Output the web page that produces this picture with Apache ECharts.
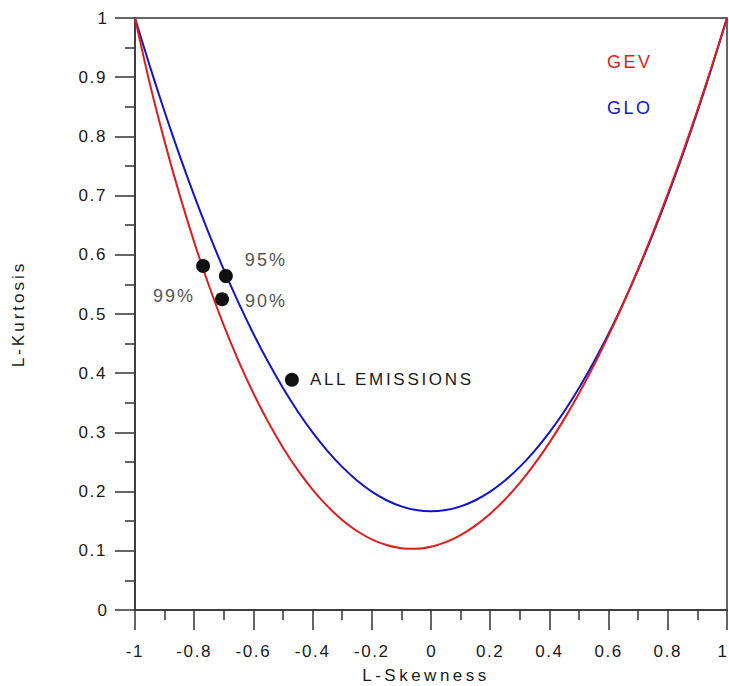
<!DOCTYPE html>
<html>
<head>
<meta charset="utf-8">
<script src="https://cdn.jsdelivr.net/npm/echarts@6/dist/echarts.min.js"></script>
<style>
html,body{margin:0;padding:0;background:#fff;}
#chart{width:729px;height:686px;}
#chart text{letter-spacing:1.6px;}
</style>
</head>
<body>
<div id="chart"></div>
<script>
// L-Skewness grid for theoretical curves
const skew = [-1, -0.95, -0.9, -0.85, -0.8, -0.75, -0.7, -0.65, -0.6, -0.55, -0.5, -0.45, -0.4, -0.35, -0.3, -0.25, -0.2, -0.15, -0.1, -0.05, 0,
  0.05, 0.1, 0.15, 0.2, 0.25, 0.3, 0.35, 0.4, 0.45, 0.5, 0.55, 0.6, 0.65, 0.7, 0.75, 0.8, 0.85, 0.9, 0.95, 1];
// L-Kurtosis of GEV curve
const gevKurt = [1.0, 0.8893, 0.7916, 0.7025, 0.6214, 0.5477, 0.4808, 0.4204, 0.3661, 0.3174, 0.2742, 0.2363, 0.2034, 0.1754, 0.1521, 0.1334, 0.1193, 0.1097, 0.1045, 0.1036, 0.1070,
  0.1147, 0.1265, 0.1425, 0.1626, 0.1867, 0.2148, 0.2468, 0.2827, 0.3224, 0.3658, 0.4130, 0.4638, 0.5182, 0.5762, 0.6378, 0.7029, 0.7718, 0.8443, 0.9206, 1.0];
// L-Kurtosis of GLO curve
const gloKurt = [1.0, 0.9188, 0.8417, 0.7688, 0.7, 0.6354, 0.575, 0.5188, 0.4667, 0.4188, 0.375, 0.3354, 0.3, 0.2688, 0.2417, 0.2188, 0.2, 0.1854, 0.175, 0.1688, 0.1667,
  0.1688, 0.175, 0.1854, 0.2, 0.2188, 0.2417, 0.2688, 0.3, 0.3354, 0.375, 0.4188, 0.4667, 0.5188, 0.575, 0.6354, 0.7, 0.7688, 0.8417, 0.9188, 1.0];
// sample points
const pointNames = ['99%', '95%', '90%', 'ALL EMISSIONS'];
const pointSkew = [-0.770, -0.693, -0.706, -0.470];
const pointKurt = [0.581, 0.564, 0.525, 0.389];
const seriesNames = ['GEV', 'GLO'];

const FONT = "'Liberation Sans', Arial, sans-serif";
const RED = '#dc1e1e';
const BLUE = '#1414c8';

const labelStyles = [
  {position: 'left', offset: [4, 30], color: '#555', fontSize: 18},
  {position: 'right', offset: [7, -16], color: '#555', fontSize: 18},
  {position: 'right', offset: [11, 2], color: '#555', fontSize: 18},
  {position: 'right', offset: [6, 0], color: '#1a1a1a', fontSize: 17}
];

const chart = echarts.init(document.getElementById('chart'), null, {renderer: 'svg'});
const option = {
  animation: false,
  backgroundColor: '#fff',
  grid: {left: 135, right: 2, top: 18, bottom: 76, show: true, borderColor: '#333', borderWidth: 1.5,
    backgroundColor: 'transparent', containLabel: false, outerBoundsMode: 'none'},
  legend: {
    orient: 'vertical', left: 597, top: 48, itemWidth: 0, itemHeight: 14, itemGap: 28,
    icon: 'none', selectedMode: false,
    data: [
      {name: seriesNames[0], textStyle: {color: RED}},
      {name: seriesNames[1], textStyle: {color: BLUE}}
    ],
    textStyle: {fontFamily: FONT, fontSize: 18}
  },
  xAxis: {
    type: 'value', min: -1, max: 1, interval: 0.2,
    name: 'L-Skewness', nameLocation: 'middle', nameGap: 57,
    nameTextStyle: {fontFamily: FONT, fontSize: 17, color: '#1a1a1a', padding: [0, 10, 0, 0]},
    axisLine: {onZero: false, lineStyle: {color: '#333', width: 1.5}},
    axisTick: {show: true, length: 20, inside: false, lineStyle: {color: '#333', width: 1.5}},
    minorTick: {show: true, splitNumber: 2, length: 10, lineStyle: {color: '#333', width: 1.5}},
    axisLabel: {fontFamily: FONT, fontSize: 17, color: '#1a1a1a', margin: 33, alignMaxLabel: 'right'},
    splitLine: {show: false}
  },
  yAxis: {
    type: 'value', min: 0, max: 1, interval: 0.1,
    name: 'L-Kurtosis', nameLocation: 'middle', nameGap: 108, nameRotate: 90,
    nameTextStyle: {fontFamily: FONT, fontSize: 17, color: '#1a1a1a'},
    axisLine: {onZero: false, lineStyle: {color: '#333', width: 1.5}},
    axisTick: {show: true, length: 20, inside: false, lineStyle: {color: '#333', width: 1.5}},
    minorTick: {show: true, splitNumber: 2, length: 10, lineStyle: {color: '#333', width: 1.5}},
    axisLabel: {fontFamily: FONT, fontSize: 17, color: '#1a1a1a', margin: 28},
    splitLine: {show: false}
  },
  series: [
    {
      name: seriesNames[0], type: 'line', showSymbol: false, smooth: 0.3,
      color: RED, lineStyle: {color: RED, width: 2},
      data: skew.map((s, i) => [s, gevKurt[i]]), z: 3
    },
    {
      name: seriesNames[1], type: 'line', showSymbol: false, smooth: 0.3,
      color: BLUE, lineStyle: {color: BLUE, width: 2},
      data: skew.map((s, i) => [s, gloKurt[i]]), z: 2
    },
    {
      name: 'points', type: 'scatter', symbolSize: 14, z: 5,
      itemStyle: {color: '#111', opacity: 1},
      data: pointNames.map((n, i) => ({
        name: n, value: [pointSkew[i], pointKurt[i]],
        label: {show: true, formatter: n, position: labelStyles[i].position, offset: labelStyles[i].offset,
          color: labelStyles[i].color, fontSize: labelStyles[i].fontSize, fontFamily: FONT}
      }))
    }
  ]
};
chart.setOption(option);

function applySpacing() {
  document.querySelectorAll('#chart text').forEach(t => {
    const s = t.textContent.trim();
    let ls = '1.6px';
    if (s.length === 1) ls = '0px';
    else if (s === 'L-Skewness') ls = '3.5px';
    else if (s === 'L-Kurtosis') ls = '3px';
    else if (s === 'GEV' || s === 'GLO') ls = '2.5px';
    else if (s.endsWith('%')) ls = '2px';
    else if (s === 'ALL EMISSIONS') ls = '2.7px';
    t.style.letterSpacing = ls;
  });
}
applySpacing();
chart.on('finished', applySpacing);
</script>
</body>
</html>
